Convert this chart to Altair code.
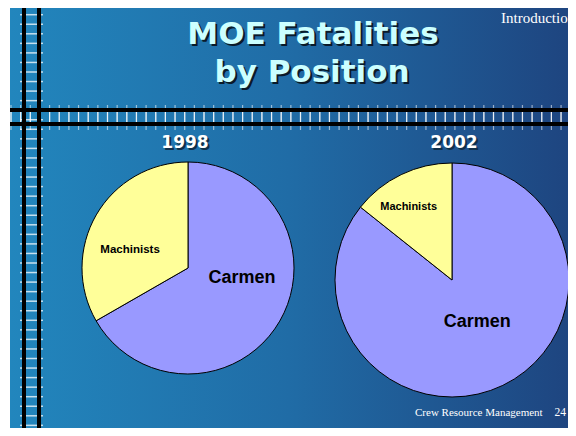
import altair as alt
import pandas as pd

# ---- data ----
positions = ["Carmen", "Machinists"]
share_1998 = [66.7, 33.3]
share_2002 = [85.7, 14.3]
years = ["1998", "2002"]
pie_colors = ["#9999ff", "#ffff99"]
title_lines = ["MOE Fatalities", "by Position"]
section_label = "Introduction"
footer_label = "Crew Resource Management"
page_number = "24"

W, H = 560, 420

df98 = pd.DataFrame({"position": positions, "share": share_1998, "rank": [0, 1]})
df02 = pd.DataFrame({"position": positions, "share": share_2002, "rank": [0, 1]})

color = alt.Color("position:N", scale=alt.Scale(domain=positions, range=pie_colors), legend=None)
theta = alt.Theta("share:Q", stack=True)
order = alt.Order("rank:Q")

# ---- background and decoration ----
bg = alt.Chart(pd.DataFrame({"a": [0]})).mark_rect(
    fill=alt.LinearGradient(
        gradient="linear",
        stops=[alt.GradientStop(color="#2286bd", offset=0),
               alt.GradientStop(color="#206ca6", offset=0.5),
               alt.GradientStop(color="#1e4580", offset=1)],
        x1=0, x2=1, y1=0, y2=0),
).encode(x=alt.value(2), x2=alt.value(W), y=alt.value(0), y2=alt.value(H))

rungs = alt.Chart(alt.sequence(6.7, 430, 9.55, as_="v")).mark_rule(
    color="white", strokeWidth=1.5, opacity=0.75
).encode(y=alt.Y("v:Q", scale=None), x=alt.value(12), x2=alt.value(35))

ticks = alt.Chart(alt.sequence(3, 570, 9.65, as_="v")).mark_rule(
    color="white", strokeWidth=1.2, opacity=0.55
).encode(x=alt.X("v:Q", scale=None), y=alt.value(97), y2=alt.value(122))

ticks_bright = alt.Chart(alt.sequence(3, 570, 9.65, as_="v")).mark_rule(
    color="white", strokeWidth=1.2, opacity=0.8
).encode(x=alt.X("v:Q", scale=None), y=alt.value(104), y2=alt.value(114))

vlines = [
    alt.Chart(pd.DataFrame({"a": [0]})).mark_rule(color="black", strokeWidth=4).encode(
        x=alt.value(xv), y=alt.value(0), y2=alt.value(H))
    for xv in (16, 31)
]
hlines = [
    alt.Chart(pd.DataFrame({"a": [0]})).mark_rule(color="black", strokeWidth=4).encode(
        y=alt.value(yv), x=alt.value(2), x2=alt.value(W))
    for yv in (102, 116)
]


def label(text, x, y, size, color_, font, weight="bold", align="center", baseline="middle", shadow=None):
    layers = []
    if shadow:
        layers.append(alt.Chart(pd.DataFrame({"a": [0]})).mark_text(
            text=text, fontSize=size, font=font, fontWeight=weight, color=shadow,
            align=align, baseline=baseline).encode(x=alt.value(x + 2), y=alt.value(y + 2)))
    layers.append(alt.Chart(pd.DataFrame({"a": [0]})).mark_text(
        text=text, fontSize=size, font=font, fontWeight=weight, color=color_,
        align=align, baseline=baseline).encode(x=alt.value(x), y=alt.value(y)))
    return layers


texts = []
texts += label(title_lines[0], 305, 27, 31, "#ccffff", "DejaVu Sans", shadow="#0a1a2a")
texts += label(title_lines[1], 304, 65, 31, "#ccffff", "DejaVu Sans", shadow="#0a1a2a")
texts += label(years[0], 177, 135, 17, "white", "DejaVu Sans", shadow="#10304a")
texts += label(years[1], 446, 135, 17, "white", "DejaVu Sans", shadow="#10304a")
texts += label(section_label, 493, 10, 15, "white", "Liberation Serif", weight="normal", align="left")
texts += label(footer_label, 407, 405, 11, "white", "Liberation Serif", weight="normal", align="left")
texts += label(page_number, 558, 405, 11.5, "white", "Liberation Serif", weight="normal", align="right")


# ---- pies ----
def pie(df, cx, cy, r, lab_specs):
    arc = alt.Chart(df).mark_arc(outerRadius=r, stroke="black", strokeWidth=1).encode(
        theta=theta, order=order, color=color, x=alt.value(cx), y=alt.value(cy))
    labs = []
    for pos, rad, size, dx, dy in lab_specs:
        labs.append(alt.Chart(df).mark_text(
            radius=rad, fontSize=size, font="Liberation Sans", fontWeight="bold",
            color="black", dx=dx, dy=dy).encode(
            theta=theta, order=order,
            text=alt.condition(alt.datum.position == pos, "position:N", alt.value("")),
            x=alt.value(cx), y=alt.value(cy)))
    return [arc] + labs


pie98 = pie(df98, 180, 260, 106, [("Carmen", 52, 18, 9, -16), ("Machinists", 60, 11.5, -6, 12)])
pie02 = pie(df02, 444, 272, 117, [("Carmen", 49, 18, 4, -2), ("Machinists", 86, 11, -6, 4)])

chart = alt.layer(
    bg, ticks, ticks_bright, rungs, *vlines, *hlines, *texts, *pie98, *pie02
).resolve_scale(theta="independent").properties(
    width=W, height=H, padding=0, autosize=alt.AutoSizeParams(type="none"),
    background="white"
).configure_view(stroke=None)

chart.save("out.html", embed_options={"renderer": "svg", "actions": False})
